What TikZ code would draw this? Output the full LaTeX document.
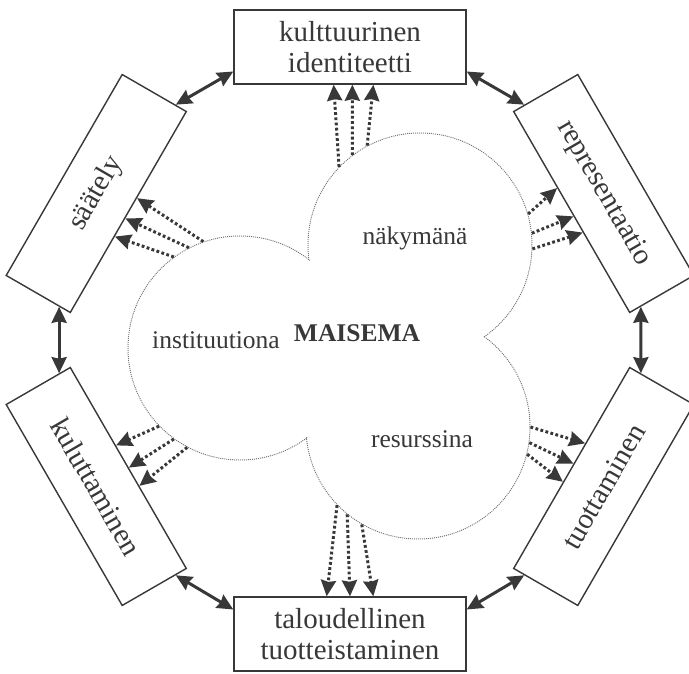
\documentclass[tikz,border=0pt]{standalone}
\usepackage{fontspec}
\setmainfont{Liberation Serif}
\usepackage{xcolor}
\usepackage{tikz}
\usetikzlibrary{arrows.meta,calc}
\definecolor{ink}{gray}{0.22}

\begin{document}
\begin{tikzpicture}[x=1pt,y=1pt, >={Stealth[length=16pt,width=15pt,inset=1.5pt]},
  box/.style={draw=ink,line width=1.4pt,fill=white,text=ink,align=center,inner sep=0pt,
    minimum width=232pt,minimum height=74pt,font=\fontsize{29}{31}\selectfont},
  lobe/.style={circle,minimum size=224pt,inner sep=0pt,draw=gray!90!black,line width=1pt,dash pattern=on 1pt off 1pt},
  lbl/.style={text=ink,inner sep=0pt,font=\fontsize{25.5}{28}\selectfont},
  link/.style={<->,draw=ink,line width=3pt},
  flow/.style={->,draw=ink,line width=3pt,dash pattern=on 2.8pt off 2.4pt}]
  \useasboundingbox (-350,-334) rectangle (339,340);
  % cloud of three lobes, the inner arcs are painted over
  \node[lobe] (nak) at (70,95) {};
  \node[lobe] (inst) at (-110,-8) {};
  \node[lobe] (res) at (68,-87) {};
  \fill[white] (nak.center) circle (111.2) (inst.center) circle (111.2) (res.center) circle (111.2);
  \fill[white] (nak.center) -- (inst.center) -- (res.center) -- cycle;
  \node[lbl] (nakl) at (65,102) {näkymänä};
  \node[lbl] (instl) at (-134,0) {instituutiona};
  \node[lbl,font=\fontsize{25.5}{28}\selectfont\bfseries] (mais) at (7,7) {MAISEMA};
  \node[lbl] (resl) at (72,-99) {resurssina};
  % the six boxes
  \node[box] (kult) at (90:293) {kulttuurinen\\identiteetti};
  \node[box,rotate=-60] (repr) at (30:293) {representaatio};
  \node[box,rotate=60] (tuot) at (-30:293) {tuottaminen};
  \node[box] (talo) at (-90:294) {taloudellinen\\tuotteistaminen};
  \node[box,rotate=-60] (kulu) at (210:293) {kuluttaminen};
  \node[box,rotate=60] (saat) at (150:293) {säätely};
  % links round the ring
  \draw[link] ($(kult.east)!.65!(kult.south east)$) -- ($(repr.west)!.65!(repr.south west)$);
  \draw[link] ($(repr.east)!.65!(repr.south east)$) -- ($(tuot.east)!.65!(tuot.north east)$);
  \draw[link] ($(tuot.west)!.65!(tuot.north west)$) -- ($(talo.east)!.65!(talo.north east)$);
  \draw[link] ($(talo.west)!.65!(talo.north west)$) -- ($(kulu.east)!.65!(kulu.north east)$);
  \draw[link] ($(kulu.west)!.65!(kulu.north west)$) -- ($(saat.west)!.65!(saat.south west)$);
  \draw[link] ($(saat.east)!.65!(saat.south east)$) -- ($(kult.west)!.65!(kult.south west)$);
  % dotted arrows out of the cloud
  \foreach \a/\f in {136/.43,127/.51,118/.6}
    \draw[flow] (nak.\a) -- ($(kult.south west)!\f!(kult.south east)$);
  \foreach \a/\f in {16.5/.38,6/.52,-2.5/.6}
    \draw[flow] (nak.\a) -- ($(repr.south west)!\f!(repr.south east)$);
  \foreach \a/\f in {0/.62,-8.4/.52,-14.7/.43}
    \draw[flow] (res.\a) -- ($(tuot.north west)!\f!(tuot.north east)$);
  \foreach \a/\f in {224.6/.4,231.7/.5,240.8/.6}
    \draw[flow] (res.\a) -- ($(talo.north west)!\f!(talo.north east)$);
  \foreach \a/\f in {224/.39,234/.5,242/.59}
    \draw[flow] (inst.\a) -- ($(kulu.north west)!\f!(kulu.north east)$);
  \foreach \a/\f in {109/.57,117.5/.47,126.4/.38}
    \draw[flow] (inst.\a) -- ($(saat.south west)!\f!(saat.south east)$);
\end{tikzpicture}
\end{document}
